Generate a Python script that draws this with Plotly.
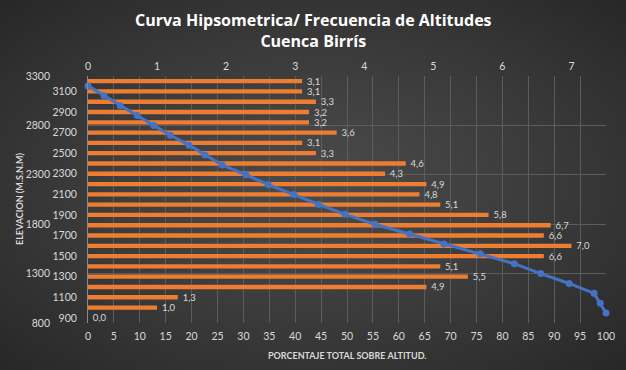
import base64
import struct
import zlib

import plotly.graph_objects as go

# Data
elev_cats = [900, 1000, 1100, 1200, 1300, 1400, 1500, 1600, 1700, 1800, 1900, 2000,
             2100, 2200, 2300, 2400, 2500, 2600, 2700, 2800, 2900, 3000, 3100, 3200]
freq_pct = [0.0, 1.0, 1.3, 4.9, 5.5, 5.1, 6.6, 7.0, 6.6, 6.7, 5.8, 5.1,
            4.8, 4.9, 4.3, 4.6, 3.3, 3.1, 3.6, 3.2, 3.2, 3.3, 3.1, 3.1]
freq_labels = [f"{v:.1f}".replace(".", ",") for v in freq_pct]

curve_elev = [3200, 3100, 3000, 2900, 2800, 2700, 2600, 2500, 2400, 2300, 2200, 2100,
              2000, 1900, 1800, 1700, 1600, 1500, 1400, 1300, 1200, 1100, 1000, 900]
curve_pct = [0, 3.1, 6.2, 9.5, 12.7, 15.9, 19.5, 22.6, 25.9, 30.5, 34.8, 39.7,
             44.5, 49.6, 55.4, 62.1, 68.7, 75.7, 82.3, 87.4, 92.9, 97.7, 98.9, 100]

bottom_ticks = list(range(0, 101, 5))
top_ticks = list(range(0, 8))
cat_ticks = list(range(900, 3101, 200))
elev_ticks = list(range(800, 3301, 500))

W, H = 626, 370
x0, x1 = 88, 606
y_top, y_bot = 76, 323
BG = "#3c3c3c"
GRID = "#5c5c5c"
TXT = "#d9d9d9"
FONT = "Lato"


def radial_png(w, h, inner, outer):
    """Small radial-gradient background image (styling only)."""
    rows = []
    cx, cy = (w - 1) / 2, (h - 1) / 2
    for j in range(h):
        row = bytearray([0])
        for i in range(w):
            d = (((i - cx) / cx) ** 2 + ((j - cy) / cy) ** 2) ** 0.5 / 1.4142
            t = min(1.0, d) ** 1.3
            c = int(inner + (outer - inner) * t)
            row += bytes([c, c, c])
        rows.append(bytes(row))
    raw = b"".join(rows)

    def chunk(tag, data):
        return struct.pack(">I", len(data)) + tag + data + struct.pack(">I", zlib.crc32(tag + data) & 0xffffffff)

    png = b"\x89PNG\r\n\x1a\n" + chunk(b"IHDR", struct.pack(">IIBBBBB", w, h, 8, 2, 0, 0, 0))
    png += chunk(b"IDAT", zlib.compress(raw, 9)) + chunk(b"IEND", b"")
    return "data:image/png;base64," + base64.b64encode(png).decode()


fig = go.Figure()
# bars on the main subplot (x = top frequency axis, y = category elevation)
fig.add_trace(go.Bar(
    x=freq_pct, y=elev_cats, orientation="h", xaxis="x", yaxis="y",
    marker=dict(color="#ED7D31", line=dict(width=0)), width=42,
    text=freq_labels, texttemplate="  %{text}", textposition="outside",
    cliponaxis=False, constraintext="none",
    textfont=dict(color=TXT, size=9.5, family=FONT), showlegend=False,
))
# hypsometric curve on overlay axes (x2 = bottom percentage, y2 = elevation)
fig.add_trace(go.Scatter(
    x=curve_pct, y=curve_elev, xaxis="x2", yaxis="y2", mode="lines+markers",
    line=dict(color="#4472C4", width=3), marker=dict(color="#4472C4", size=7),
    showlegend=False, cliponaxis=False,
))

xd = [x0 / W, x1 / W]
yd = [1 - y_bot / H, 1 - y_top / H]
fig.update_layout(
    width=W, height=H, autosize=False,
    margin=dict(l=0, r=0, t=0, b=0, pad=0),
    paper_bgcolor=BG, plot_bgcolor="rgba(0,0,0,0)",
    font=dict(family=FONT, color=TXT, size=10),
    images=[dict(source=radial_png(126, 74, 74, 40), xref="paper", yref="paper",
                 x=0, y=1, sizex=1, sizey=1, sizing="stretch", layer="below",
                 xanchor="left", yanchor="top")],
    xaxis=dict(domain=xd, range=[0, 7.5], tickvals=top_ticks, showgrid=False,
               zeroline=False, side="top", anchor="y", automargin=False,
               tickfont=dict(size=10.5, color=TXT), ticklabelstandoff=3),
    xaxis2=dict(domain=xd, range=[0, 100], tickvals=bottom_ticks, showgrid=True,
                gridcolor=GRID, gridwidth=1, zeroline=False, showline=False,
                overlaying="x", anchor="y", side="bottom", automargin=False,
                tickfont=dict(size=10.5, color=TXT), ticklabelstandoff=5),
    yaxis=dict(domain=yd, range=[850, 3250], tickvals=cat_ticks, showgrid=False,
               zeroline=False, showline=True, linecolor="#8a8a8a", linewidth=1,
               anchor="x", side="left", automargin=False,
               tickfont=dict(size=10.5, color=TXT), ticklabelstandoff=8),
    yaxis2=dict(domain=yd, range=[800, 3300], tickvals=elev_ticks, showgrid=True,
                gridcolor=GRID, gridwidth=1, zeroline=False, overlaying="y",
                side="left", anchor="free", position=50 / W, automargin=False,
                tickfont=dict(size=10.5, color=TXT)),
)

fig.add_annotation(text="<b>Curva Hipsometrica/ Frecuencia de Altitudes<br>Cuenca Birrís</b>",
                   x=313 / W, y=1 - 30 / H, xref="paper", yref="paper",
                   showarrow=False, font=dict(size=16, color="#ffffff", family="Open Sans", weight="bold"),
                   xanchor="center", yanchor="middle")
fig.add_annotation(text="<b>PORCENTAJE TOTAL SOBRE ALTITUD.</b>",
                   x=(x0 + x1) / 2 / W, y=1 - 355 / H, xref="paper", yref="paper",
                   showarrow=False, font=dict(size=9, color=TXT, family=FONT),
                   xanchor="center", yanchor="middle")
fig.add_annotation(text="<b>ELEVACION (M.S.N.M)</b>", textangle=-90,
                   x=20 / W, y=1 - 199 / H, xref="paper", yref="paper",
                   showarrow=False, font=dict(size=9, color=TXT, family=FONT),
                   xanchor="center", yanchor="middle")

fig.write_html("out.html", config={"displayModeBar": False},
               post_script="document.body.style.margin='0';document.body.style.background='%s';" % BG)
